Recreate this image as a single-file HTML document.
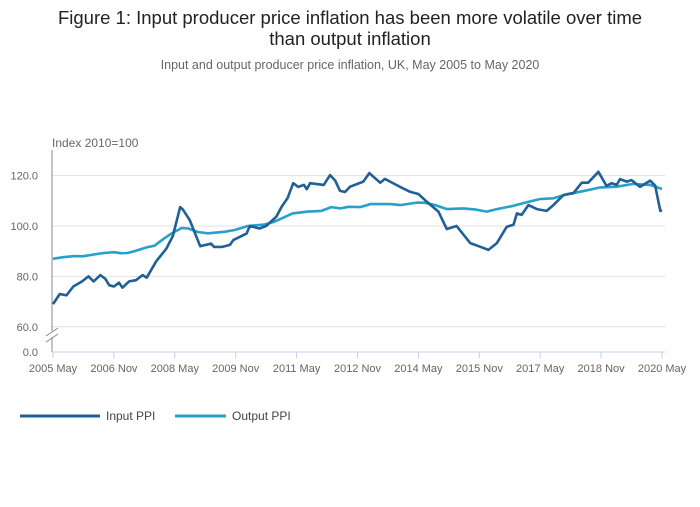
<!DOCTYPE html>
<html><head><meta charset="utf-8"><style>
body{margin:0;background:#fff;font-family:"Liberation Sans",sans-serif;}
svg text{font-family:"Liberation Sans",sans-serif;}
</style></head><body>
<svg width="700" height="502" viewBox="0 0 700 502">
<text x="350" y="24" text-anchor="middle" font-size="18.5" fill="#222">Figure 1: Input producer price inflation has been more volatile over time</text>
<text x="350" y="45" text-anchor="middle" font-size="18.5" fill="#222">than output inflation</text>
<text x="350" y="69" text-anchor="middle" font-size="12.5" fill="#666">Input and output producer price inflation, UK, May 2005 to May 2020</text>
<text x="52" y="147" font-size="12" fill="#666">Index 2010=100</text>
<g id="grid"></g>
<g id="axes"></g>
<g id="series"></g>
<g>
<line x1="20" y1="416" x2="100" y2="416" stroke="#206095" stroke-width="3"/>
<text x="106" y="420" font-size="12" fill="#444">Input PPI</text>
<line x1="175" y1="416" x2="226" y2="416" stroke="#27a0cc" stroke-width="3"/>
<text x="232" y="420" font-size="12" fill="#444">Output PPI</text>
</g>
</svg>
<script>
const yTicks=[60,80,100,120];
const yTickLabels=["60.0","80.0","100.0","120.0"];
const xTickMonths=[0,18,36,54,72,90,108,126,144,162,180];
const xTickLabels=["2005 May","2006 Nov","2008 May","2009 Nov","2011 May","2012 Nov","2014 May","2015 Nov","2017 May","2018 Nov","2020 May"];
const inputMonths=[
0,2,4,6,8.6,10.5,12,14,15.5,16.6,
18,19.5,20.5,22.5,24.5,26.5,27.7,30.5,33.5,35.4,
37.6,38.4,40.4,43.5,46.7,47.6,50,52.3,53.3,57.2,
58.2,61,63,66,67.6,69.3,71,72.5,74.2,75,
76,80,81.9,83.4,84.8,86.3,87.8,91.7,93.5,96.7,
98.1,102.6,105.5,108,110.5,113.9,116.4,119.3,123.3,126.2,
128.7,131.2,134.1,136.1,137.1,138.5,140.5,143,145.9,147.9,
150.9,153.8,156.3,158.2,161.2,163.6,165.1,166.6,167.6,169.6,
171,173.5,176.5,178,179.5,180];
const inputValues=[
69,73,72.5,76,78,80,78,80.5,79,76.5,
76,77.5,75.5,78,78.5,80.5,79.5,86,91,96,
107.5,106.5,102.4,92,93,91.7,91.7,92.5,94.4,97,
100,99,100,103.7,107.7,111,117,115.5,116.3,114.6,
117,116.3,120.2,118,114,113.5,115.6,117.6,121,117.2,
118.7,115.5,113.6,112.7,109.6,105.7,98.8,100,93.2,91.8,
90.5,93.2,99.7,100.5,105,104.4,108.3,106.7,106,108.3,
112.3,113,117.2,117.2,121.5,115.9,117,116.3,118.6,117.6,
118.2,115.5,118,116,106,106.3];
const outputMonths=[0,3,6,9,12,15,18,20,22,24,27.7,30,32.8,35,38,40,42.8,45.8,50.7,53.7,57.6,62.5,65.4,68.4,70.8,75.3,79.3,82.3,85,87.3,90.8,93.8,99.7,102.6,107.5,110,113,116.4,121.3,125,128.2,131.2,136.1,140,144,147.9,151.9,155.9,161.8,166.6,171.5,176.5,180];
const outputValues=[87,87.6,88,88,88.7,89.3,89.6,89.2,89.3,90,91.5,92.2,95,97,99.2,99,97.6,97.1,97.7,98.4,100,100.6,101.7,103.5,105,105.7,106,107.5,107,107.6,107.5,108.7,108.7,108.3,109.3,109.2,108.3,106.7,107,106.5,105.7,106.7,108,109.4,110.7,111,112.6,113.6,115.3,115.6,116.7,116.3,114.7];
const NS="http://www.w3.org/2000/svg";
const x=m=>53+m*(609/180);
const y=v=>226-(v-100)*2.52;
function mk(tag,attrs,parent){const e=document.createElementNS(NS,tag);for(const k in attrs)e.setAttribute(k,attrs[k]);parent.appendChild(e);return e;}
const grid=document.getElementById('grid'),axes=document.getElementById('axes'),series=document.getElementById('series');
yTicks.forEach((t,i)=>{
 const l=mk('line',{x1:52,x2:665,y1:y(t),y2:y(t),stroke:'#e0e0e0','stroke-width':1},grid);
 
 
 const tx=mk('text',{x:38,y:y(t)+4,'text-anchor':'end','font-size':11,fill:'#666'},axes);
 tx.textContent=yTickLabels[i];
 
 
});
const z=mk('text',{x:38,y:356,'text-anchor':'end','font-size':11,fill:'#666'},axes);
z.textContent="0.0";


const ya=mk('path',{d:'M52 150 V331 M52 337 V352',stroke:'#888','stroke-width':1,fill:'none'},axes);


const br=mk('path',{d:'M46 336 L58 328 M46 342 L58 334',stroke:'#888','stroke-width':1,fill:'none'},axes);


const xa=mk('line',{x1:52,x2:665,y1:352,y2:352,stroke:'#bfd0e8','stroke-width':1},axes);


xTickMonths.forEach((m,i)=>{
 const t=mk('line',{x1:x(m),x2:x(m),y1:352,y2:358,stroke:'#bfd0e8'},axes);
 
 
 const tx=mk('text',{x:x(m),y:372,'text-anchor':'middle','font-size':11,fill:'#666'},axes);
 tx.textContent=xTickLabels[i];
 
 
});
function line(ms,vs,color,name){
 const d=ms.map((m,i)=>(i?'L':'M')+x(m).toFixed(1)+' '+y(vs[i]).toFixed(1)).join(' ');
 const p=mk('path',{d:d,stroke:color,'stroke-width':2.6,fill:'none','stroke-linejoin':'round'},series);
 
 
}
line(outputMonths,outputValues,'#27a0cc','output-ppi-line');
line(inputMonths,inputValues,'#206095','input-ppi-line');
</script>
</body></html>
